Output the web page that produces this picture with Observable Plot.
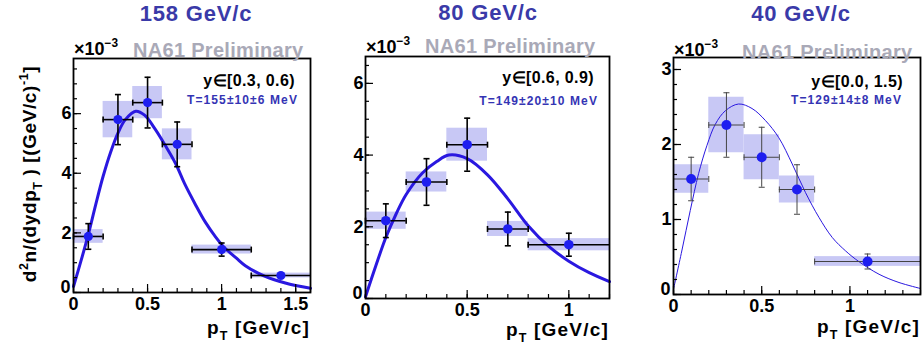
<!DOCTYPE html>
<html>
<head>
<meta charset="utf-8">
<script src="https://cdn.jsdelivr.net/npm/d3@7"></script>
<script src="https://cdn.jsdelivr.net/npm/@observablehq/plot@0.6"></script>
<style>
  body { margin: 0; background: #fff; }
  #chart { position: relative; width: 922px; height: 361px; overflow: hidden; background: #fff; }
  #chart svg { position: absolute; top: 0; overflow: visible; }
</style>
</head>
<body>
<div id="chart"></div>
<script>
// ---- 158 GeV/c, y in [0.3, 0.6) ----
const pt158    = [0.1, 0.3, 0.5, 0.7, 1.0, 1.4];
const yield158 = [1.88, 5.80, 6.37, 4.97, 1.44, 0.57];
const dpt158   = [0.1, 0.1, 0.1, 0.1, 0.2, 0.2];
const stat158  = [0.43, 0.84, 0.85, 0.75, 0.22, 0.05];
const sys158   = [0.23, 0.61, 0.54, 0.52, 0.15, 0.08];
const fitPt158 = [0, 0.05, 0.1, 0.15, 0.2, 0.25, 0.3, 0.35, 0.42, 0.48, 0.55, 0.62, 0.69, 0.75, 0.82, 0.89, 0.96, 1.02, 1.1, 1.16, 1.29, 1.43, 1.6];
const fitY158  = [0.2, 1.05, 1.95, 2.95, 3.9, 4.7, 5.35, 5.8, 6.08, 5.95, 5.49, 4.93, 4.32, 3.65, 2.98, 2.36, 1.86, 1.5, 1.15, 0.9, 0.55, 0.32, 0.14];

// ---- 80 GeV/c, y in [0.6, 0.9) ----
const pt80    = [0.1, 0.3, 0.5, 0.7, 1.0];
const yield80 = [2.17, 3.25, 4.29, 1.94, 1.50];
const dpt80   = [0.1, 0.1, 0.1, 0.1, 0.2];
const stat80  = [0.47, 0.65, 0.74, 0.47, 0.32];
const sys80   = [0.24, 0.28, 0.46, 0.21, 0.17];
const fitPt80 = [0, 0.05, 0.1, 0.15, 0.2, 0.28, 0.35, 0.41, 0.5, 0.6, 0.7, 0.8, 0.9, 1.0, 1.1, 1.2];
const fitY80  = [0.05, 0.9, 1.7, 2.35, 2.9, 3.5, 3.82, 4.0, 3.9, 3.45, 2.78, 2.03, 1.46, 1.04, 0.72, 0.47];

// ---- 40 GeV/c, y in [0.0, 1.5) ----
const pt40    = [0.1, 0.3, 0.5, 0.7, 1.1];
const yield40 = [1.54, 2.26, 1.83, 1.40, 0.44];
const dpt40   = [0.1, 0.1, 0.1, 0.1, 0.3];
const stat40  = [0.29, 0.43, 0.40, 0.33, 0.10];
const sys40   = [0.19, 0.37, 0.30, 0.18, 0.065];
const fitPt40 = [0, 0.047, 0.095, 0.142, 0.19, 0.237, 0.294, 0.369, 0.445, 0.521, 0.597, 0.673, 0.748, 0.824, 0.9, 0.976, 1.05, 1.165, 1.278, 1.4];
const fitY40  = [0.07, 0.58, 1.12, 1.61, 1.99, 2.27, 2.45, 2.54, 2.48, 2.32, 2.09, 1.74, 1.36, 1.03, 0.76, 0.58, 0.44, 0.27, 0.16, 0.08];

// ---- tick labels and texts ----
const xTicks158 = [0, 0.5, 1, 1.5];
const yTicks158 = [0, 2, 4, 6];
const xTicks80  = [0, 0.5, 1];
const yTicks80  = [0, 2, 4, 6];
const xTicks40  = [0, 0.5, 1];
const yTicks40  = [0, 1, 2, 3];
const beamLabels  = ["158 GeV/c", "80 GeV/c", "40 GeV/c"];
const rapidityBins = ["y\u2208[0.3, 0.6)", "y\u2208[0.6, 0.9)", "y\u2208[0.0, 1.5)"];
const fitTemps    = ["T=155\u00b110\u00b16 MeV", "T=149\u00b120\u00b110 MeV", "T=129\u00b114\u00b18 MeV"];
const prelimLabel = "NA61 Preliminary";

const FONT = "'Liberation Sans', Arial, Helvetica, sans-serif";
const DOT = "#1e1ef0";
const CURVE = "#2a18e0";
const BOX = "#c8c8f5";
const TITLE = "#3a3aa8";
const TEMP = "#3434b4";
const GREY = "#a9a9b7";

// short horizontal / vertical strokes used as error-bar end caps
const hCap = { draw(ctx, size) { const w = Math.sqrt(size) / 2; ctx.moveTo(-w, 0); ctx.lineTo(w, 0); } };
const vCap = { draw(ctx, size) { const w = Math.sqrt(size) / 2; ctx.moveTo(0, -w); ctx.lineTo(0, w); } };

function richText(svg, x, y, parts, o) {
  const t = d3.select(svg).append("text")
    .attr("x", x).attr("y", y)
    .attr("font-family", FONT)
    .attr("font-size", o.size)
    .attr("font-weight", "bold")
    .attr("fill", o.fill || "black")
    .attr("text-anchor", o.anchor || "start")
    .attr("letter-spacing", o.spacing || 0);
  if (o.rotate) t.attr("transform", `rotate(${o.rotate},${x},${y})`);
  let shift = 0;
  for (const p of parts) {
    const s = p.sup ? -o.size * 0.42 : p.sub ? o.size * 0.32 : 0;
    const ts = t.append("tspan").text(p.t).attr("dy", s - shift);
    if (p.sup || p.sub) ts.attr("font-size", o.size * 0.66);
    shift = s;
  }
  return t;
}

function panel(cfg) {
  const rows = cfg.pt.map((x, i) => ({x, y: cfg.y[i], dx: cfg.dpt[i], stat: cfg.stat[i], sys: cfg.sys[i]}));
  const fit = cfg.fitPt.map((x, i) => ({x, y: cfg.fitY[i]}));
  const fw = cfg.width - cfg.ml - cfg.mr;
  const fh = cfg.height - cfg.mt - cfg.mb;
  const ky = cfg.ymax / fh, kx = cfg.xmax / fw;
  const minorX = d3.range(0, cfg.xmax + 1e-6, 0.1).map(v => +v.toFixed(2));
  const majorX = d3.range(0, cfg.xmax + 1e-6, 0.5);
  const minorY = d3.range(0, cfg.ymax + 1e-6, cfg.yMinor).map(v => +v.toFixed(2));
  const majorY = cfg.yTicks;
  const es = {stroke: cfg.errColor, strokeWidth: cfg.errWidth};
  const tickText = {tickSize: 0, tickFormat: d => String(d), fontSize: 18, fontWeight: "bold", label: null};

  const svg = Plot.plot({
    width: cfg.width, height: cfg.height,
    marginLeft: cfg.ml, marginRight: cfg.mr, marginTop: cfg.mt, marginBottom: cfg.mb,
    x: {domain: [0, cfg.xmax]},
    y: {domain: [0, cfg.ymax]},
    style: {fontFamily: FONT, background: "transparent", color: "black"},
    marks: [
      // systematic uncertainty boxes
      Plot.rect(rows, {x1: d => d.x - d.dx, x2: d => Math.min(d.x + d.dx, cfg.xmax),
                       y1: d => d.y - d.sys, y2: d => d.y + d.sys, fill: BOX}),
      // fitted spectrum
      Plot.line(fit, {x: "x", y: "y", stroke: CURVE, strokeWidth: cfg.fitWidth, curve: "catmull-rom"}),
      // statistical errors and bin widths
      Plot.ruleY(rows, {y: "y", x1: d => d.x - d.dx, x2: d => Math.min(d.x + d.dx, cfg.xmax), ...es}),
      Plot.ruleX(rows, {x: "x", y1: d => d.y - d.stat, y2: d => d.y + d.stat, ...es}),
      Plot.dot(rows, {x: "x", y: d => d.y + d.stat, symbol: hCap, r: 3.4, fill: "none", ...es}),
      Plot.dot(rows, {x: "x", y: d => d.y - d.stat, symbol: hCap, r: 3.4, fill: "none", ...es}),
      Plot.dot(rows, {x: d => d.x - d.dx, y: "y", symbol: vCap, r: 3.4, fill: "none", ...es}),
      Plot.dot(rows.filter(d => d.x + d.dx < cfg.xmax - 1e-6), {x: d => d.x + d.dx, y: "y", symbol: vCap, r: 3.4, fill: "none", ...es}),
      Plot.dot(rows, {x: "x", y: "y", r: cfg.r, fill: DOT}),
      // inward tick marks
      Plot.ruleX(minorX, {x: d => d, y1: 0, y2: 4 * ky, stroke: "black", strokeWidth: 1.2}),
      Plot.ruleX(majorX, {x: d => d, y1: 0, y2: 8 * ky, stroke: "black", strokeWidth: 1.2}),
      Plot.ruleY(minorY, {y: d => d, x1: 0, x2: 4 * kx, stroke: "black", strokeWidth: 1.2}),
      Plot.ruleY(majorY, {y: d => d, x1: 0, x2: 8 * kx, stroke: "black", strokeWidth: 1.2}),
      Plot.frame({stroke: "black", strokeWidth: 1.8}),
      Plot.axisX({ticks: cfg.xTicks, tickPadding: 5, ...tickText}),
      Plot.axisY({ticks: cfg.yTicks.filter(d => d !== 0), tickPadding: 2, ...tickText}),
      // the y-axis zero sits just above the x-axis zero
      Plot.axisY({ticks: [0], tickPadding: 3, dy: -5, ...tickText})
    ]
  });
  svg.style.left = cfg.left + "px";

  // energy title
  richText(svg, cfg.titleX, cfg.titleY, [{t: cfg.title}], {size: 22, fill: TITLE, anchor: "middle", spacing: 0.8});
  // x10^-3 multiplier
  richText(svg, cfg.ml + 1, cfg.expY, [{t: "\u00d710"}, {t: "\u22123", sup: true}], {size: 18});
  // preliminary tag
  richText(svg, cfg.prelimX, cfg.prelimY, [{t: prelimLabel}], {size: 20, fill: GREY, spacing: 0.3});
  // rapidity interval and fitted temperature
  richText(svg, cfg.rapX, cfg.rapY, [{t: cfg.rap}], {size: 16, anchor: "end", spacing: 0.4});
  richText(svg, cfg.tempX, cfg.tempY, [{t: cfg.temp}], {size: 12, fill: TEMP, anchor: "end", spacing: 1.1});
  // x-axis title
  richText(svg, cfg.width - cfg.mr, cfg.xlabY, [{t: "p"}, {t: "T", sub: true}, {t: " [GeV/c]"}], {size: 19, anchor: "end", spacing: 1.2});
  return svg;
}

const chart = document.getElementById("chart");

const p1 = panel({
  left: 0, width: 320, height: 361, ml: 73, mr: 10, mt: 58, mb: 69,
  xmax: 1.6, ymax: 7.85, yMinor: 0.5, xTicks: xTicks158, yTicks: yTicks158,
  pt: pt158, y: yield158, dpt: dpt158, stat: stat158, sys: sys158, fitPt: fitPt158, fitY: fitY158,
  fitWidth: 3, r: 4.6, errColor: "black", errWidth: 1.6,
  title: beamLabels[0], titleX: 196, titleY: 21, expY: 55, prelimX: 133, prelimY: 57,
  rap: rapidityBins[0], rapX: 295, rapY: 86, temp: fitTemps[0], tempX: 298, tempY: 104, xlabY: 334
});
chart.appendChild(p1);

// y-axis title, shared by the row
richText(p1, 36, 174, [{t: "d"}, {t: "2", sup: true}, {t: "n/(dydp"}, {t: "T", sub: true}, {t: " ) [(GeV/c)"}, {t: "-1", sup: true}, {t: "]"}],
         {size: 19, anchor: "middle", rotate: -90, spacing: 0.6});

const p2 = panel({
  left: 320, width: 300, height: 361, ml: 45, mr: 11, mt: 56, mb: 63,
  xmax: 1.2, ymax: 6.75, yMinor: 0.5, xTicks: xTicks80, yTicks: yTicks80,
  pt: pt80, y: yield80, dpt: dpt80, stat: stat80, sys: sys80, fitPt: fitPt80, fitY: fitY80,
  fitWidth: 3, r: 4.8, errColor: "black", errWidth: 1.6,
  title: beamLabels[1], titleX: 168, titleY: 20, expY: 53, prelimX: 105, prelimY: 53,
  rap: rapidityBins[1], rapX: 274, rapY: 83, temp: fitTemps[1], tempX: 278, tempY: 105, xlabY: 336
});
chart.appendChild(p2);

const p3 = panel({
  left: 622, width: 300, height: 361, ml: 51, mr: 2, mt: 57, mb: 67,
  xmax: 1.4, ymax: 3.16, yMinor: 0.2, xTicks: xTicks40, yTicks: yTicks40,
  pt: pt40, y: yield40, dpt: dpt40, stat: stat40, sys: sys40, fitPt: fitPt40, fitY: fitY40,
  fitWidth: 1, r: 5, errColor: "#444", errWidth: 1,
  title: beamLabels[2], titleX: 179, titleY: 21, expY: 56, prelimX: 120, prelimY: 59,
  rap: rapidityBins[2], rapX: 281, rapY: 87, temp: fitTemps[2], tempX: 280, tempY: 104, xlabY: 333
});
chart.appendChild(p3);
</script>
</body>
</html>
